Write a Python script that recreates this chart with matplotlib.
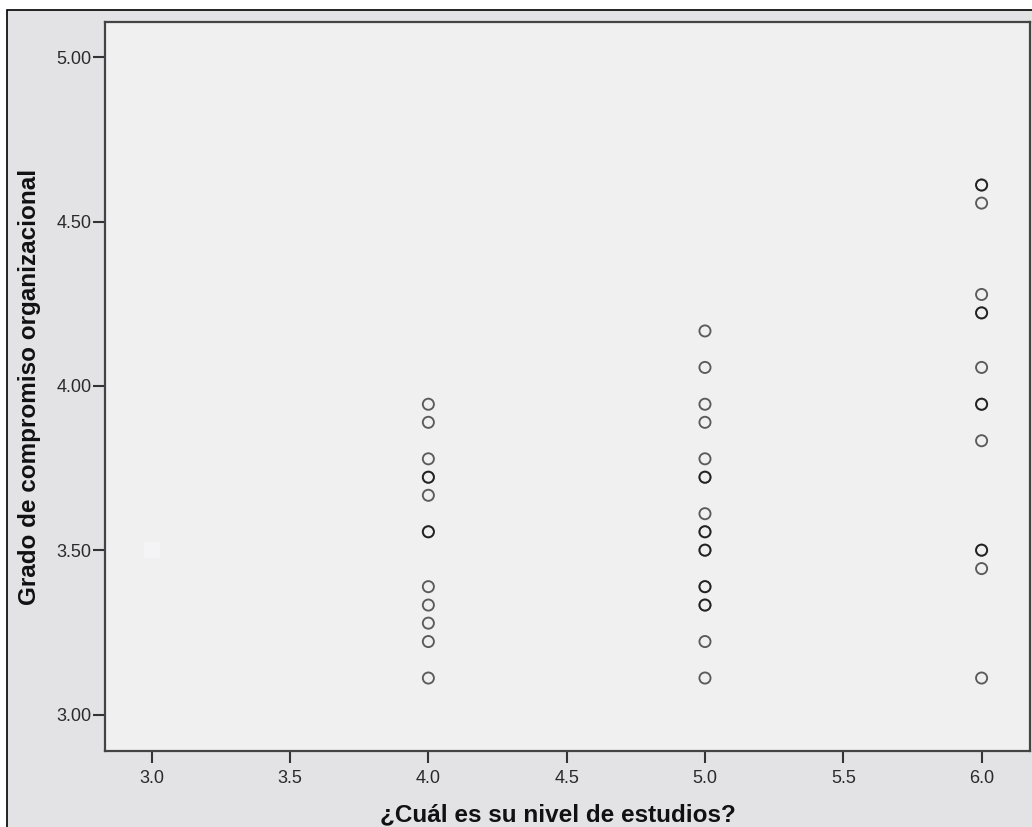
import matplotlib
matplotlib.use("Agg")
import matplotlib.pyplot as plt
from matplotlib.patches import Rectangle

# ---- data ----
nivel_4 = [3.944, 3.889, 3.778, 3.722, 3.722, 3.667, 3.556, 3.556,
           3.389, 3.333, 3.278, 3.222, 3.111]
nivel_5 = [4.167, 4.056, 3.944, 3.889, 3.778, 3.722, 3.722, 3.611,
           3.556, 3.556, 3.500, 3.500, 3.389, 3.389, 3.333, 3.333,
           3.222, 3.111]
nivel_6 = [4.611, 4.611, 4.556, 4.278, 4.222, 4.222, 4.056, 3.944,
           3.944, 3.833, 3.500, 3.500, 3.444, 3.111]
hidden_x = [3.0]
hidden_y = [3.5]

x_ticks = [3.0, 3.5, 4.0, 4.5, 5.0, 5.5, 6.0]
x_ticklabels = ["3.0", "3.5", "4.0", "4.5", "5.0", "5.5", "6.0"]
y_ticks = [3.0, 3.5, 4.0, 4.5, 5.0]
y_ticklabels = ["3.00", "3.50", "4.00", "4.50", "5.00"]

xlabel = "¿Cuál es su nivel de estudios?"
ylabel = "Grado de compromiso organizacional"

W, H = 1032, 827
fig = plt.figure(figsize=(W / 100, H / 100), dpi=100, facecolor="white")

# outer SPSS chart frame
fig.patches.append(Rectangle((7 / W, -10 / H), (W + 10 - 7) / W, (H - 10 + 10) / H,
                             transform=fig.transFigure, facecolor="#e3e3e5",
                             edgecolor="black", linewidth=1.2, zorder=-10))

ax = fig.add_axes([105 / W, 1 - 751 / H, (1030 - 105) / W, (751 - 22) / H])
ax.set_zorder(5)
ax.set_facecolor("#f0f0f0")

for xv, ys in ((4.0, nivel_4), (5.0, nivel_5), (6.0, nivel_6)):
    ax.scatter([xv] * len(ys), ys, s=8.0 ** 2, marker="o", facecolors="none",
               edgecolors=(0, 0, 0, 0.62), linewidths=1.35, zorder=3)

ax.scatter(hidden_x, hidden_y, s=11.5 ** 2, marker="s", color="#f4f4f6",
           linewidths=0, zorder=2)

ax.set_xlim(2.831, 6.175)
ax.set_ylim(2.889, 5.107)

ax.set_xticks(x_ticks)
ax.set_xticklabels(x_ticklabels)
ax.set_yticks(y_ticks)
ax.set_yticklabels(y_ticklabels)

for lab in ax.get_xticklabels() + ax.get_yticklabels():
    lab.set_fontfamily("Liberation Sans")
    lab.set_fontsize(13)
    lab.set_color("#2a2a2a")

ax.tick_params(axis="both", direction="out", length=8.5, width=1.5,
               color="#333333")
ax.tick_params(axis="x", pad=5)
ax.tick_params(axis="y", pad=1)

for sp in ax.spines.values():
    sp.set_color("#444444")
    sp.set_linewidth(1.6)

ax.set_xlabel(xlabel, fontfamily="Liberation Sans", fontweight="bold",
              fontsize=17.5, color="#111111", labelpad=12)
ax.xaxis.label.set_x(0.49)
ax.set_ylabel(ylabel, fontfamily="Liberation Sans", fontweight="bold",
              fontsize=17.5, color="#111111", labelpad=11)

fig.savefig("out.png", dpi=100, facecolor=fig.get_facecolor())
